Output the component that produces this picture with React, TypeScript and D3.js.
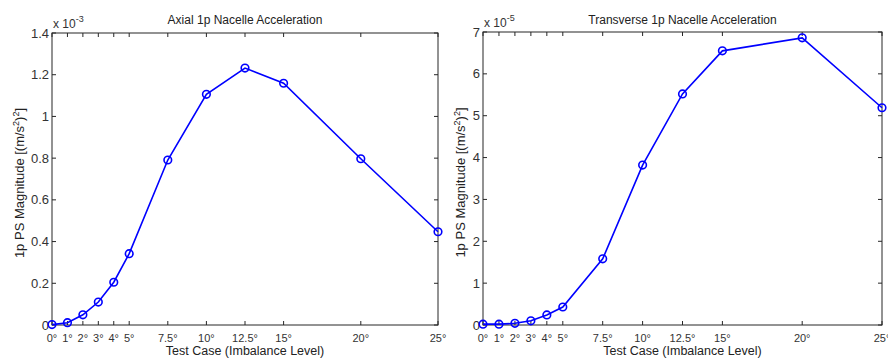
import React from "react";
import * as d3 from "d3";

const xCases = [0, 1, 2, 3, 4, 5, 7.5, 10, 12.5, 15, 20, 25];
const xLabels = ["0°", "1°", "2°", "3°", "4°", "5°", "7.5°", "10°", "12.5°", "15°", "20°", "25°"];

const axialValues = [0.002, 0.011, 0.049, 0.110, 0.205, 0.342, 0.791, 1.106, 1.232, 1.159, 0.797, 0.447];
const axialTicks = [0, 0.2, 0.4, 0.6, 0.8, 1, 1.2, 1.4];
const axialTickLabels = ["0", "0.2", "0.4", "0.6", "0.8", "1", "1.2", "1.4"];

const transValues = [0.02, 0.02, 0.04, 0.10, 0.24, 0.43, 1.58, 3.82, 5.52, 6.55, 6.86, 5.19];
const transTicks = [0, 1, 2, 3, 4, 5, 6, 7];
const transTickLabels = ["0", "1", "2", "3", "4", "5", "6", "7"];

const FONT = "'Liberation Sans', Arial, sans-serif";
const BLUE = "#0000ff";
const AX = "#262626";
const TXT = "#333";

type PanelProps = {
  left: number; right: number; top: number; bottom: number;
  title: string; exponent: string; values: number[]; yMax: number;
  yTicks: number[]; yTickLabels: string[]; yLabelX: number;
};

function Panel(p: PanelProps) {
  const x = d3.scaleLinear().domain([0, 25]).range([p.left, p.right]);
  const y = d3.scaleLinear().domain([0, p.yMax]).range([p.bottom, p.top]);
  const line = d3.line<number>().x((_, i) => x(xCases[i])).y((v) => y(v));
  const pts = p.values;
  const tl = 4;
  const midY = (p.top + p.bottom) / 2 + 4;
  return (
    <g>
      <rect x={p.left} y={p.top} width={p.right - p.left} height={p.bottom - p.top} fill="#fff" stroke={AX} strokeWidth={1} />
      {xCases.map((c, i) => (
        <g key={"xt" + i}>
          <line x1={x(c)} x2={x(c)} y1={p.bottom} y2={p.bottom - tl} stroke={AX} />
          <line x1={x(c)} x2={x(c)} y1={p.top} y2={p.top + tl} stroke={AX} />
          <text x={x(c)} y={342} fontSize={11} fill={TXT} textAnchor="middle" fontFamily={FONT}>{xLabels[i]}</text>
        </g>
      ))}
      {p.yTicks.map((t, i) => (
        <g key={"yt" + i}>
          <line x1={p.left} x2={p.left + tl} y1={y(t)} y2={y(t)} stroke={AX} />
          <line x1={p.right} x2={p.right - tl} y1={y(t)} y2={y(t)} stroke={AX} />
          <text x={p.left - 3} y={y(t) + 4.5} fontSize={13} fill={TXT} textAnchor="end" fontFamily={FONT}>{p.yTickLabels[i]}</text>
        </g>
      ))}
      <text x={p.left + 1} y={p.top - 5} fontSize={12} fill={TXT} fontFamily={FONT}>x 10<tspan dy={-6} fontSize={9}>{p.exponent}</tspan></text>
      <text x={(p.left + p.right) / 2} y={24} fontSize={12} fill="#222" textAnchor="middle" fontFamily={FONT}>{p.title}</text>
      <text x={(p.left + p.right) / 2} y={355} fontSize={12.5} fill="#222" textAnchor="middle" fontFamily={FONT}>Test Case (Imbalance Level)</text>
      <text transform={`translate(${p.yLabelX},${midY}) rotate(-90)`} fontSize={13} fill="#222" textAnchor="middle" fontFamily={FONT}>
        1p PS Magnitude [(m/s<tspan dy={-5} fontSize={9}>2</tspan><tspan dy={5}>)</tspan><tspan dy={-5} fontSize={9}>2</tspan><tspan dy={5}>]</tspan>
      </text>
      <path d={line(pts) || ""} fill="none" stroke={BLUE} strokeWidth={1.6} />
      {pts.map((v, i) => (
        <circle key={"c" + i} cx={x(xCases[i])} cy={y(v)} r={3.8} fill="none" stroke={BLUE} strokeWidth={1.6} />
      ))}
    </g>
  );
}

export default function App() {
  return (
    <svg width={888} height={360} style={{ position: "absolute", left: 0, top: 0, background: "#fff" }}>
      <rect width={888} height={360} fill="#fff" />
      <Panel left={52} right={438} top={33} bottom={325} title="Axial 1p Nacelle Acceleration" exponent="-3"
        values={axialValues} yMax={1.4} yTicks={axialTicks} yTickLabels={axialTickLabels} yLabelX={24} />
      <Panel left={483} right={882} top={32} bottom={325} title="Transverse 1p Nacelle Acceleration" exponent="-5"
        values={transValues} yMax={7} yTicks={transTicks} yTickLabels={transTickLabels} yLabelX={465} />
    </svg>
  );
}
